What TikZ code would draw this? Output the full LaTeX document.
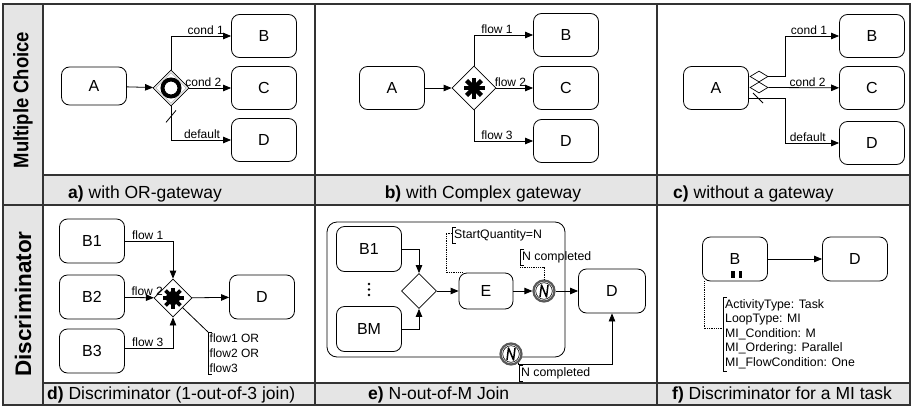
\documentclass[tikz,border=0pt]{standalone}
\usepackage{fontspec}
\setmainfont{Liberation Sans}
\usetikzlibrary{arrows.meta,calc,shapes.geometric}
\def\Nsign(#1){\draw[line width=0.6pt] (#1) circle (8.3);
  \draw[line width=1.5pt, line join=round] ($(#1)+(-4,6)$) -- ++(1.5,-12) -- ++(5,12) -- ++(1.5,-12);}
\def\bracket(#1)(#2){\draw ($(#1)+(4,0)$) -- (#1) -- (#2) -- ++(4,0);}
\tikzset{
  task/.style={draw, rounded corners=8pt, minimum width=65pt, minimum height=43pt,
    inner sep=0pt, line width=0.8pt, font=\fontsize{16}{18}\selectfont},
  gw/.style={draw, diamond, aspect=1, inner sep=0pt, fill=white, line width=0.8pt},
  evt/.style={circle, draw=black!65, fill=white, line width=2.2pt, minimum size=21pt, inner sep=0pt},
  flow/.style={-{Triangle[length=8pt,width=6.5pt]}, line width=0.8pt},
  assoc/.style={densely dotted, line width=0.8pt},
  lbl/.style={font=\fontsize{12}{14}\selectfont, inner sep=1pt},
  note/.style={font=\fontsize{12.3}{14.5}\selectfont, inner sep=2pt, align=left},
  caption/.style={font=\fontsize{17.5}{20}\selectfont, inner sep=0pt, anchor=base west},
  rowlbl/.style={rotate=90, font=\bfseries\fontsize{21}{24}\selectfont},
  grid/.style={line width=1.2pt, black!80},
}
\begin{document}
\begin{tikzpicture}[x=1pt,y=-1pt]
		%%%%% START %%%%%
		\useasboundingbox (0,0) rectangle (912,415);
		
		% table
		\fill[gray!20] (3,4) rectangle (43,405);
		\fill[gray!20] (43,175) rectangle (910,205);
		\fill[gray!20] (43,383) rectangle (910,405);
		\draw[grid] (3,4) rectangle (910,405);
		\draw[grid] (3,205) -- (910,205);
		\draw[grid] (43,175) -- (910,175) (43,383) -- (910,383);
		\foreach \x in {43,315,657} \draw[grid] (\x,4) -- (\x,405);
		
		\node[rowlbl, xscale=0.88] (row-mc) at (23,100) {Multiple Choice};
		\node[rowlbl, font=\bfseries\fontsize{22.5}{24}\selectfont] (row-dc) at (23,304) {Discriminator};
		
		% a) OR-gateway
		\node[task, minimum height=38pt] (a-A) at (94,86) {A};
		\node[gw, minimum size=36pt] (a-g) at (171,88) {};
		\node[diamond, aspect=1, draw=black!45, minimum size=31pt] at (a-g) {};
		\draw[line width=4pt] (a-g) circle (8.5);
		\node[task] (a-B) at (264,36) {B};
		\node[task] (a-C) at (264,88) {C};
		\node[task] (a-D) at (264,140) {D};
		\draw[flow] (a-A) -- (a-g);
		\draw[flow] (a-g.north) |- node[lbl, pos=0.95, above left] {cond 1} (a-B);
		\draw[flow] (a-g.east) -- node[lbl, pos=0.8, above left] {cond 2} (a-C);
		\draw[flow] (a-g.south) |- node[lbl, pos=0.92, above left] {default} (a-D);
		\draw[line width=0.8pt] ($(a-g.south)+(-5,16)$) -- ++(10,-12);
		
		% b) complex gateway
		\node[task] (b-A) at (392,88) {A};
		\node[gw, minimum size=44pt] (b-g) at (474,88) {};
		\foreach \ang in {0,45,90,135}
			\draw[line width=4.5pt] (b-g.center) ++(\ang:10.5) -- ++(\ang+180:21);
		\node[task] (b-B) at (566,35) {B};
		\node[task] (b-C) at (566,88) {C};
		\node[task] (b-D) at (566,141) {D};
		\draw[flow] (b-A) -- (b-g);
		\draw[flow] (b-g.north) |- node[lbl, pos=0.55, above right] {flow 1} (b-B);
		\draw[flow] (b-g.east) -- node[lbl, pos=0, above right, xshift=-3pt] {flow 2} (b-C);
		\draw[flow] (b-g.south) |- node[lbl, pos=0.55, above right] {flow 3} (b-D);
		
		% c) no gateway
		\node[task] (c-A) at (716,88) {A};
		\node[draw, diamond, inner sep=0pt, minimum width=18pt, minimum height=11pt, line width=0.7pt] (c-m1) at (759,76.5) {};
		\node[draw, diamond, inner sep=0pt, minimum width=18pt, minimum height=11pt, line width=0.7pt] (c-m2) at (759,87.5) {};
		\node[task] (c-B) at (872,36) {B};
		\node[task] (c-C) at (872,88) {C};
		\node[task] (c-D) at (872,143) {D};
		\draw[flow] (c-m1.east) -- ++(17,0) |- node[lbl, pos=0.9, above left] {cond 1} (c-B);
		\draw[flow] (c-m2.east) -- node[lbl, pos=0.83, above left] {cond 2} (c-C);
		\draw[flow] ($(c-A.east)+(0,10)$) -- ++(36,0) |- node[lbl, pos=0.89, above left] {default} (c-D);
		\draw[line width=0.8pt] (753,93) -- (763,103);
		
		% d) discriminator
		\node[task, minimum height=44pt] (d-B1) at (92,241) {B1};
		\node[task, minimum height=44pt] (d-B2) at (92,297) {B2};
		\node[task, minimum height=44pt] (d-B3) at (92,351) {B3};
		\node[gw, minimum size=38pt] (d-g) at (173,298) {};
		\fill (d-g.center) circle (7);
		\foreach \ang in {0,45,...,315}
			\draw[line width=3.8pt] (d-g.center) -- ++(\ang:10.5);
		\node[task, minimum height=44pt] (d-D) at (262,297) {D};
		\draw[flow] (d-B1.east) -| node[lbl, pos=0.06, above right] {flow 1} (d-g.north);
		\draw[flow] (d-B2) -- node[lbl, pos=0.18, above right] {flow 2} (d-g);
		\draw[flow] ($(d-B3.east)+(0,-3)$) -| node[lbl, pos=0.06, above right] {flow 3} (d-g.south);
		\draw[flow] (d-g) -- (d-D);
		\node[note, anchor=north west, inner sep=1.5pt, font=\fontsize{12}{15}\selectfont] (d-note) at (208,332) {flow1 OR\\flow2 OR\\flow3};
		\draw[line width=0.8pt] (d-g.south east) -- (d-note.north west);
		\bracket(d-note.north west)(d-note.south west)
		
		% e) N-out-of-M join
		\node[draw, rounded corners=10pt, line width=0.8pt, minimum width=238pt, minimum height=135pt] (e-sub) at (446,289.5) {};
		\node[task, minimum height=45pt] (e-B1) at (369,249) {B1};
		\foreach \y in {284,289.5,295} \fill (369,\y) circle (1.4);
		\node[task, minimum height=45pt] (e-BM) at (369,329) {BM};
		\node[gw, minimum size=35pt] (e-g) at (419,291) {};
		\node[task, minimum width=54pt, minimum height=36pt] (e-E) at (486,291) {E};
		\node[evt] (e-ev1) at (544,291) {};
		\Nsign(e-ev1)
		\node[task, minimum width=67pt, minimum height=44pt] (e-D) at (612,291) {D};
		\node[evt] (e-ev2) at (511,354) {};
		\Nsign(e-ev2)
		\coordinate (e-turn) at (612,364);
		\draw[flow] (e-B1.east) -| (e-g.north);
		\draw[flow] (e-BM.east) -| (e-g.south);
		\draw[flow] (e-g) -- (e-E);
		\draw[flow] (e-E) -- (e-ev1);
		\draw[flow] (e-ev1) -- (e-D);
		\draw[flow] (e-ev2.-50) |- (e-turn) -- (e-D.south);
		\node[note, anchor=west] (e-sq) at (452,235) {StartQuantity=N};
		\bracket(e-sq.north west)(e-sq.south west)
		\draw[assoc] ($(e-sq.west)+(0,-2)$) -- ++(-6,0) |- ($(e-E.north west)+(4,0)$);
		\node[note, anchor=west] (e-nc1) at (520,257) {N completed};
		\bracket(e-nc1.north west)(e-nc1.south west)
		\draw[assoc] ($(e-nc1.south west)+(0,2)$) -| (e-ev1.north);
		\node[note, anchor=north west] (e-nc2) at (519,365) {N completed};
		\bracket(e-nc2.north west)(e-nc2.south west)
		
		% f) MI task
		\node[task, minimum height=44pt] (f-B) at (735,259) {B};
		\fill ($(f-B.south)+(-4,-10)$) rectangle ++(3.5,7);
		\fill ($(f-B.south)+(3.5,-10)$) rectangle ++(3.5,7);
		\node[task, minimum height=44pt] (f-D) at (855,259) {D};
		\draw[flow] (f-B) -- (f-D);
		\node[note, anchor=north west] (f-note) at (723,297) {ActivityType: Task\\LoopType: MI\\MI\_Condition: M\\MI\_Ordering: Parallel\\MI\_FlowCondition: One};
		\bracket(f-note.north west)(f-note.south west)
		\draw[assoc] ($(f-B.south west)+(2,0)$) |- ($(f-note.west)+(0,-5)$);
		
		% captions
		\node[caption] (cap-a) at (68,198) {\textbf{a)} with OR-gateway};
		\node[caption, anchor=base] (cap-b) at (483,198) {\textbf{b)} with Complex gateway};
		\node[caption] (cap-c) at (673,198) {\textbf{c)} without a gateway};
		\node[caption] (cap-d) at (47,399) {\textbf{d)} Discriminator (1-out-of-3 join)};
		\node[caption] (cap-e) at (368,399) {\textbf{e)} N-out-of-M Join};
		\node[caption] (cap-f) at (672,399) {\textbf{f)} Discriminator for a MI task};
		
		%%%%% END %%%%%
	\end{tikzpicture}
\end{document}
